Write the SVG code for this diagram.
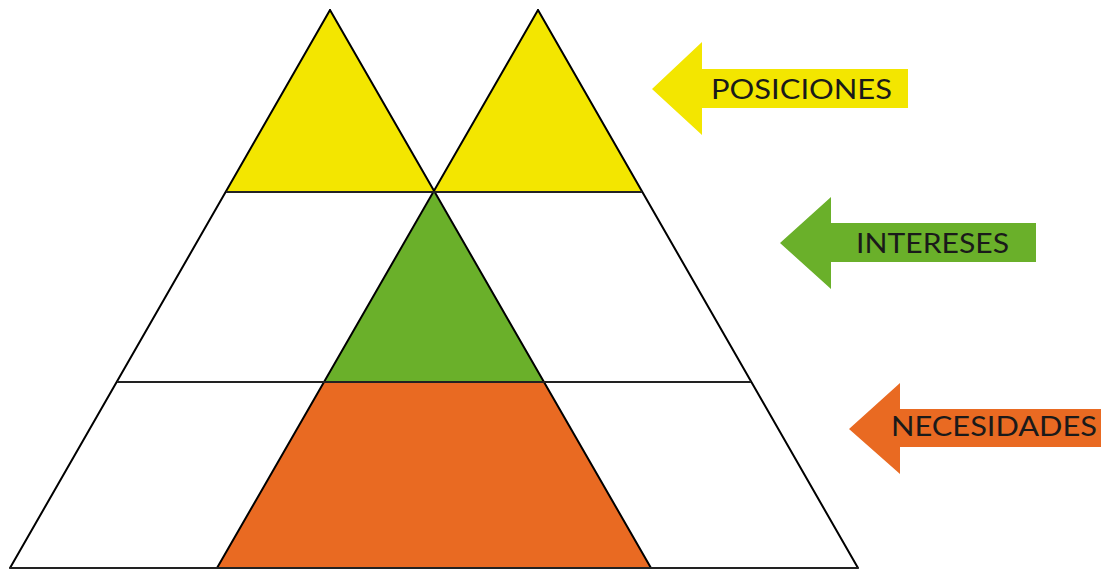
<svg xmlns="http://www.w3.org/2000/svg" width="1101" height="569" viewBox="0 0 1101 569">
  <style>
    .ln { stroke: #000; stroke-width: 2; fill: none; stroke-linecap: round; }
    .hl { stroke: #222; stroke-width: 2; fill: none; }
    .yel { fill: #F3E600; }
    .grn { fill: #6AB02A; }
    .org { fill: #E96A22; }
    .lbl { font-family: Lato, "Liberation Sans", sans-serif; font-size: 26px; fill: #1a1a1a; }
  </style>
  <rect width="1101" height="569" fill="#fff"/>
  <g id="fills">
    <polygon id="pos-left" class="yel" points="330,10 226,192 434,192"/>
    <polygon id="pos-right" class="yel" points="538,10 434,192 642,192"/>
    <polygon id="intereses" class="grn" points="434,192 324,382 544,382"/>
    <polygon id="necesidades" class="org" points="324,382 544,382 651,568 217,568"/>
  </g>
  <g id="connectors">
    <line class="ln" x1="330" y1="10" x2="10" y2="568"/>
    <line class="ln" x1="330" y1="10" x2="651" y2="568"/>
    <line class="ln" x1="538" y1="10" x2="217" y2="568"/>
    <line class="ln" x1="538" y1="10" x2="858" y2="568"/>
    <line class="hl" x1="226" y1="192" x2="642" y2="192"/>
    <line class="hl" x1="117" y1="382" x2="751" y2="382"/>
    <line class="hl" x1="10" y1="568" x2="858" y2="568"/>
  </g>
  <g id="arrow-posiciones">
    <polygon class="yel" points="652,89 702,42 702,69 908,69 908,108 702,108 702,135"/>
    <text class="lbl" x="711" y="98.5" textLength="181" lengthAdjust="spacingAndGlyphs">POSICIONES</text>
  </g>
  <g id="arrow-intereses">
    <polygon class="grn" points="780,243 831,197 831,223 1036,223 1036,262 831,262 831,289"/>
    <text class="lbl" x="856" y="252.5" textLength="153" lengthAdjust="spacingAndGlyphs">INTERESES</text>
  </g>
  <g id="arrow-necesidades">
    <polygon class="org" points="849,429 900,383 900,409 1101,409 1101,447 900,447 900,474"/>
    <text class="lbl" x="891" y="436" textLength="206" lengthAdjust="spacingAndGlyphs">NECESIDADES</text>
  </g>
</svg>
